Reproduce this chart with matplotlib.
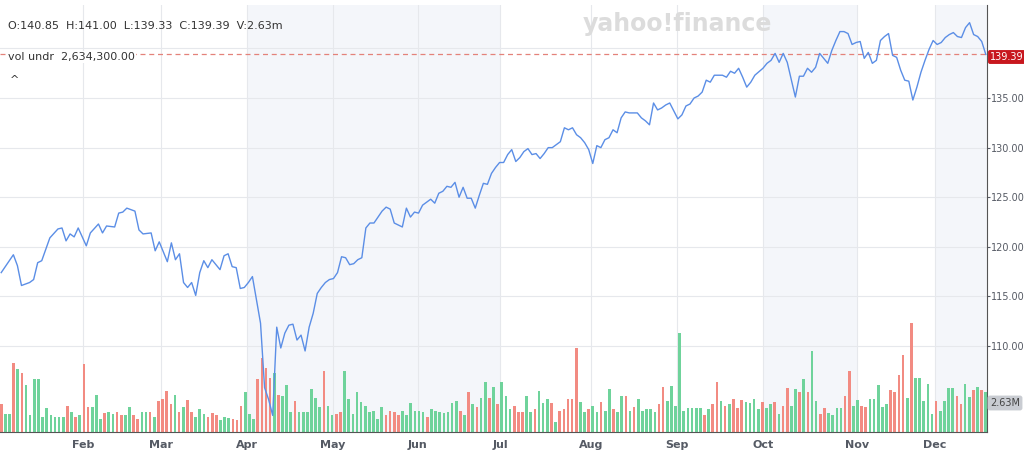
import numpy as np
import matplotlib
matplotlib.use("Agg")
import matplotlib.pyplot as plt

price = [117.4,119.2,118.1,116.1,116.4,116.7,118.4,118.6,120.9,121.8,121.9,120.6,121.3,121.0,121.9,120.1,
         121.4,122.3,121.4,122.1,122.0,123.4,123.5,123.9,123.6,121.7,121.3,121.4,119.6,120.5,118.5,120.4,
         118.7,119.3,116.4,115.9,116.4,115.1,117.4,118.6,117.9,118.7,117.7,119.1,119.3,118.0,117.9,115.8,
         115.9,116.4,117.0,112.3,105.8,104.6,103.0,111.9,109.8,111.3,112.1,112.2,110.6,111.1,109.5,111.9,
         113.3,115.3,115.9,116.4,116.7,116.8,117.4,119.0,118.9,118.2,118.3,118.7,118.9,121.9,122.4,122.4,
         123.0,123.6,124.0,123.8,122.4,122.2,122.0,123.9,123.0,123.5,123.4,124.2,124.5,124.8,124.4,125.4,
         125.6,126.1,126.0,126.5,125.0,126.0,124.9,124.9,123.9,125.2,126.4,126.3,127.4,128.0,128.5,128.5,
         129.3,129.8,128.6,129.0,129.6,129.9,129.3,129.4,128.9,129.4,130.0,130.0,130.3,130.6,132.0,131.8,
         132.0,131.3,131.0,130.5,129.8,128.4,130.2,130.0,130.8,131.0,131.8,131.5,133.0,133.6,133.5,133.5,
         133.0,132.7,132.3,134.5,133.8,134.0,134.3,134.5,132.9,133.3,134.2,134.4,135.0,135.2,135.6,136.8,
         136.6,137.3,137.3,137.1,137.7,137.5,138.0,137.1,136.1,136.6,137.3,138.0,138.5,138.8,139.5,138.6,
         139.5,138.6,135.1,137.2,137.2,138.0,137.6,138.1,139.5,139.0,138.5,139.8,140.8,141.7,141.7,141.5,
         140.4,140.6,140.7,139.0,139.6,138.5,138.8,140.8,141.2,141.5,139.3,139.1,137.8,136.8,136.7,134.8,
         136.1,137.6,138.8,139.9,140.8,140.4,140.6,141.1,141.4,141.6,141.2,141.1,142.1,142.6,141.4,141.2,
         140.7,139.4]
# trading-day number of each price point
price_day = [0,3,4,5,7,8,9,10,12,14,15,16,17,18,19,21,22,24,25,26,28,29,30,31,33,34,35,37,38,39,41,42,
             43,44,45,46,47,48,49,50,51,52,54,55,56,57,58,59,60,61,62,64,65,66,67,68,69,70,71,72,73,74,
             75,76,77,78,79,80,81,82,83,84,
             85,86,87,88,89,90,91,92,93,94,95,96,97,98,99,100,101,102,103,104,105,106,107,108,109,110,
             111,112,113,114,115,116,117,118,119,120,121,122,123,124,125,126,127,128,129,130,131,132,133,
             134,135,136,137,138,139,140,141,142,143,144,145,146,147,148,149,150,151,152,153,154,155,157,
             158,159,160,161,162,163,164,165,167,168,169,170,171,172,173,174,175,176,178,179,180,181,182,
             183,184,185,186,188,189,190,191,192,193,194,196,197,198,199,200,201,202,203,204,205,206,207,
             208,209,210,211,212,213,214,215,216,217,218,219,220,221,222,223,224,225,226,227,228,229,230,
             231,232,233,234,235,236,237,238,239,240,241,242,243]

volume_head = [2.5,1.6,1.6,6.3,5.7,5.4,4.3,1.5,4.8,4.8,1.4,2.2,1.5,1.4,1.4,1.4,2.4,1.8,1.4,1.5,6.2,2.3,2.3,3.4,
          1.2,1.7,1.8,1.6,1.8,1.5,1.5,2.3,1.5,1.2,1.8,1.8,1.8,1.4,2.8,3.0,3.7,2.5,3.4,1.8,2.3,2.9,1.8,1.4,
          2.1,1.6,1.4,1.7,1.5,1.1,1.4,1.3,1.2,1.1,2.4,3.6,1.6,1.2,4.8,6.7,5.8,4.9,5.4,3.4,3.3,4.3,1.8,2.8,
          1.8,1.8,1.8,3.9,3.1,2.3,5.5,2.4,1.5,1.6,1.8,5.5,3.0,1.6,3.6,2.7,2.4,1.8,1.9,1.2,2.3,1.5,1.9,1.8,
          1.5,1.9,1.5,2.6,1.9,1.9,1.8,1.4,2.1,1.9,1.8,1.7,1.8,2.6,2.8,1.9,1.5,3.6,2.5,2.3,3.1,4.5,3.1,
          4.1,2.5,4.5,3.3,2.1,2.4,1.8,1.8,3.3,1.8,2.1,3.7,2.6,3.0,2.6,0.9,1.9,2.1,3.0,3.0,7.6,2.7,1.8,2.1,
          2.4,1.8,2.7,1.9,3.9,2.1,1.8,3.3,3.3,1.9,2.3,3.0,1.9,2.1,2.1,1.8,2.5,4.1,2.8,4.2,2.4,9.0,1.9,2.2,
          2.2,2.2,2.2,1.5,2.1,2.5,4.5,2.8,2.4,2.5,3.0,2.2,2.9,2.7,2.6,3.0,2.1,2.7,2.2,2.5,2.7,1.6,2.4,4.0,
          2.4,3.9,3.6,4.8,3.6,7.4,2.8,1.6,2.2,1.7,1.5,2.2,2.2,3.3,5.5,2.4,2.9,2.4,2.3,3.0,3.0,4.3,2.3,2.5]
volume_tail = [3.8,3.6,5.2,7.0,3.1,9.9,4.9,4.9,2.8,4.4,1.6,2.8,1.9,2.8,4.0,4.0,3.3,2.5,4.4,3.2,3.8,4.1,3.8,3.6]
down_tail   = [1,  1,  1,  1,  0,  1,  0,  0,  0,  0,  0,  1,  0,  0,  0,  0,  1,  1,  0,  0,  1,  0,  1,  0]
down_head = [1,0,0,1,0,1,0,0,0,0,0,0,0,0,0,0,1,0,1,0,1,1,0,0,0,1,0,0,1,1,0,0,1,1,0,0,1,0,1,1,1,1,0,1,0,1,1,0,
        0,0,1,1,1,0,0,0,1,1,1,0,0,0,1,1,1,1,0,1,0,0,0,1,0,0,0,0,0,0,1,0,0,1,1,0,0,0,0,0,0,0,0,0,0,1,1,1,
        1,0,0,0,0,0,0,1,0,0,0,0,0,0,0,1,0,1,0,1,0,0,1,
        0,1,0,0,0,1,1,1,0,0,1,0,0,0,1,0,1,1,1,1,1,0,0,1,0,0,1,0,0,1,0,0,1,0,1,0,0,0,0,0,1,1,0,0,0,0,0,
        0,0,0,0,1,0,1,1,0,1,0,1,1,1,0,0,0,0,1,0,0,1,0,1,1,0,0,1,0,1,0,0,1,1,0,0,0,0,1,1,0,0,1,1,0,0,0]
months = ["Feb","Mar","Apr","May","Jun","Jul","Aug","Sep","Oct","Nov","Dec"]
month_px = [83,161,247,333,418,500,591,677,763,857,935]
shade_px = [(247,500),(763,857),(935,990)]
price_ticks = [110,115,120,125,130,135]
last_close = 139.39

volume = volume_head + volume_tail
dh = (down_head + [0]*len(volume_head))[:len(volume_head)]
down = dh + down_tail
N = len(volume)
X0, X1 = -0.3, 243.3
fig = plt.figure(figsize=(10.24,4.59), dpi=100)
ax = fig.add_axes([0, 27/459, 987/1024, 427/459])
def px(p):
    return X0 + p/987*(X1-X0)

axv = ax.twinx()
for a,b in shade_px:
    axv.axvspan(px(a), px(b), color="#f4f6fa", zorder=0, lw=0)
for t in price_ticks + [140]:
    axv.axhline((t-101.33)/(144.38-101.33)*38.8, color="#e6e8ec", lw=0.8, zorder=1)
for m in month_px:
    axv.axvline(px(m), color="#e6e8ec", lw=0.8, zorder=1)
cols = ["#f28b82" if v == 1 else "#6fd39b" for v in down]
vol_day = np.linspace(0, 243, N)
axv.bar(vol_day, volume, width=0.65, color=cols, zorder=2)
axv.axis("off")

n = min(len(price), len(price_day))
ax.plot(price_day[:n], price[:n], color="#5b8ee6", lw=1.0, zorder=5)
ax.set_zorder(axv.get_zorder()+1); ax.patch.set_visible(False)
ax.axhline(last_close, color="#e4827a", lw=0.9, ls=(0,(4,3)), zorder=4)

ax.set_xlim(X0, X1)
ax.set_ylim(101.33, 144.38)
axv.set_ylim(0, 38.8)

ax.set_xticks([px(m) for m in month_px]); ax.set_xticklabels(months)
ax.tick_params(axis="x", length=0, labelsize=8, colors="#555a64", pad=6)
ax.yaxis.tick_right()
ax.set_yticks(price_ticks); ax.set_yticklabels([f"{t:.2f}" for t in price_ticks])
ax.tick_params(axis="y", length=2, labelsize=7, colors="#555a64", pad=1, direction="out")
for s in ["top","left"]:
    ax.spines[s].set_visible(False)
ax.spines["right"].set_color("#555"); ax.spines["bottom"].set_color("#555")
ax.spines["right"].set_linewidth(0.8); ax.spines["bottom"].set_linewidth(0.8)
for lab in ax.get_xticklabels():
    lab.set_fontweight("bold")

fig.text(990/1024, 1-57/459, "139.39", color="white", fontsize=7, va="center", ha="left",
         bbox=dict(boxstyle="round,pad=0.2", fc="#c8171e", ec="none"))
fig.text(990/1024, 1-403/459, "2.63M", color="#444", fontsize=7, va="center", ha="left",
         bbox=dict(boxstyle="round,pad=0.25", fc="#c9ccd2", ec="none"))
fig.text(8/1024, 1-29/459, "O:140.85  H:141.00  L:139.33  C:139.39  V:2.63m", fontsize=8, color="#333")
fig.text(8/1024, 1-57/459, "vol undr  2,634,300.00", fontsize=8, color="#333", va="center",
         bbox=dict(fc="white", ec="none", pad=1))
fig.text(10/1024, 1-80/459, "^", fontsize=8, color="#333", va="center")
fig.text(677/1024, 1-24/459, "yahoo!finance", fontsize=17, color="#dcdcdc", ha="center", va="center",
         fontweight="bold", zorder=0)
fig.savefig("out.png", dpi=100)
